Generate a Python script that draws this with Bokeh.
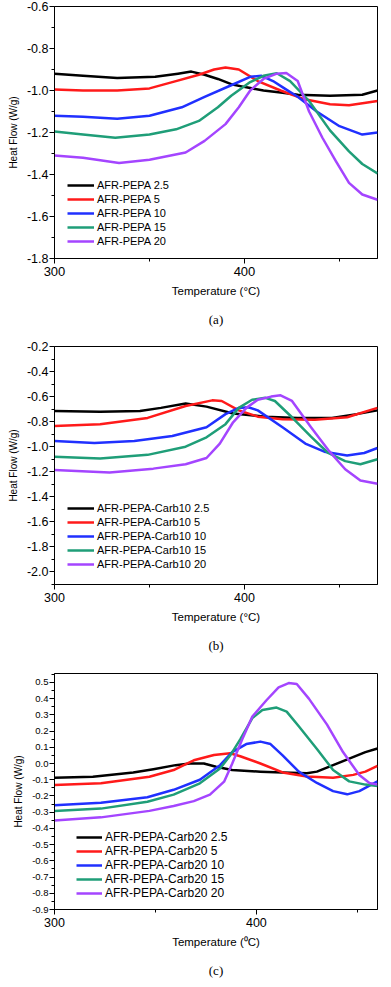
from bokeh.plotting import figure
from bokeh.models import FixedTicker, PrintfTickFormatter, Legend, LegendItem, Title, Range1d
from bokeh.layouts import column
from bokeh.embed import file_html
from bokeh.resources import INLINE

# ---------------- data: panel (a) ----------------
a_names = ["AFR-PEPA 2.5", "AFR-PEPA 5", "AFR-PEPA 10", "AFR-PEPA 15", "AFR-PEPA 20"]
a_t_25 = [300, 315, 333, 353, 365, 372, 379, 386, 393, 401, 410, 419, 428, 445, 462, 470]
a_h_25 = [-0.92, -0.93, -0.94, -0.935, -0.92, -0.91, -0.925, -0.945, -0.97, -0.985, -1.0, -1.01, -1.02, -1.025, -1.02, -1.0]
a_t_5 = [300, 315, 333, 350, 362, 376, 384, 390, 397, 407, 419, 431, 445, 455, 463, 470]
a_h_5 = [-0.995, -1.0, -1.0, -0.99, -0.96, -0.925, -0.9, -0.89, -0.9, -0.955, -1.0, -1.04, -1.065, -1.07, -1.06, -1.05]
a_t_10 = [300, 315, 333, 350, 367, 379, 393, 403, 409, 415, 421, 428, 438, 450, 462, 470]
a_h_10 = [-1.12, -1.125, -1.135, -1.12, -1.08, -1.03, -0.975, -0.935, -0.93, -0.955, -0.99, -1.03, -1.1, -1.17, -1.21, -1.2]
a_t_15 = [300, 315, 332, 350, 364, 376, 386, 393, 403, 410, 417, 424, 434, 445, 455, 462, 470]
a_h_15 = [-1.195, -1.21, -1.225, -1.21, -1.185, -1.145, -1.08, -1.025, -0.96, -0.93, -0.918, -0.955, -1.05, -1.19, -1.29, -1.35, -1.395]
a_t_20 = [300, 315, 334, 350, 369, 379, 390, 397, 403, 410, 417, 422, 428, 434, 441, 448, 455, 462, 470]
a_h_20 = [-1.31, -1.32, -1.345, -1.33, -1.295, -1.24, -1.16, -1.08, -1.0, -0.945, -0.92, -0.917, -0.955, -1.1, -1.225, -1.335, -1.44, -1.495, -1.52]
a_yticks = [-1.8, -1.6, -1.4, -1.2, -1.0, -0.8, -0.6]
a_yminor = [-1.7, -1.5, -1.3, -1.1, -0.9, -0.7]

# ---------------- data: panel (b) ----------------
b_names = ["AFR-PEPA-Carb10 2.5", "AFR-PEPA-Carb10 5", "AFR-PEPA-Carb10 10",
           "AFR-PEPA-Carb10 15", "AFR-PEPA-Carb10 20"]
b_t_25 = [300, 324, 345, 356, 369, 380, 394, 411, 428, 446, 459, 470]
b_h_25 = [-0.714, -0.72, -0.715, -0.69, -0.655, -0.68, -0.735, -0.76, -0.77, -0.77, -0.74, -0.71]
b_t_5 = [300, 324, 349, 369, 383, 388, 397, 407, 420, 437, 454, 470]
b_h_5 = [-0.835, -0.82, -0.77, -0.675, -0.63, -0.635, -0.71, -0.76, -0.78, -0.785, -0.765, -0.69]
b_t_10 = [300, 321, 342, 362, 380, 390, 397, 402, 407, 420, 432, 442, 454, 463, 470]
b_h_10 = [-0.955, -0.97, -0.955, -0.915, -0.845, -0.74, -0.69, -0.685, -0.71, -0.845, -0.975, -1.04, -1.07, -1.05, -1.01]
b_t_15 = [300, 324, 349, 369, 380, 390, 397, 404, 411, 416, 425, 435, 444, 453, 461, 470]
b_h_15 = [-1.08, -1.095, -1.065, -1.0, -0.925, -0.82, -0.69, -0.625, -0.61, -0.635, -0.765, -0.92, -1.05, -1.115, -1.14, -1.1]
b_t_20 = [300, 329, 352, 369, 380, 387, 394, 401, 407, 414, 419, 425, 435, 444, 453, 461, 470]
b_h_20 = [-1.185, -1.205, -1.175, -1.14, -1.09, -0.975, -0.805, -0.69, -0.625, -0.6, -0.59, -0.635, -0.845, -1.025, -1.18, -1.27, -1.295]
b_yticks = [-2.0, -1.8, -1.6, -1.4, -1.2, -1.0, -0.8, -0.6, -0.4, -0.2]
b_yminor = [-2.1, -1.9, -1.7, -1.5, -1.3, -1.1, -0.9, -0.7, -0.5, -0.3]

# ---------------- data: panel (c) ----------------
c_names = ["AFR-PEPA-Carb20 2.5", "AFR-PEPA-Carb20 5", "AFR-PEPA-Carb20 10",
           "AFR-PEPA-Carb20 15", "AFR-PEPA-Carb20 20"]
c_t_25 = [300, 319, 339, 349, 360, 367, 374, 380, 388, 402, 413, 425, 430, 438, 446, 454, 460]
c_h_25 = [-0.088, -0.082, -0.055, -0.035, -0.01, 0.0, 0.0, -0.02, -0.04, -0.05, -0.055, -0.06, -0.05, -0.01, 0.03, 0.07, 0.093]
c_t_5 = [300, 323, 347, 359, 369, 379, 387, 392, 402, 413, 425, 438, 448, 454, 460]
c_h_5 = [-0.132, -0.122, -0.082, -0.04, 0.02, 0.053, 0.063, 0.045, 0.0, -0.055, -0.08, -0.088, -0.07, -0.05, -0.015]
c_t_10 = [300, 323, 346, 359, 372, 382, 388, 395, 402, 407, 413, 421, 430, 438, 445, 451, 460]
c_h_10 = [-0.258, -0.242, -0.208, -0.162, -0.1, -0.01, 0.07, 0.12, 0.135, 0.12, 0.05, -0.05, -0.12, -0.17, -0.19, -0.17, -0.11]
c_t_15 = [300, 323, 346, 359, 372, 382, 387, 392, 398, 403, 410, 415, 421, 430, 438, 446, 454, 460]
c_h_15 = [-0.292, -0.278, -0.236, -0.192, -0.122, -0.031, 0.049, 0.149, 0.28, 0.33, 0.345, 0.32, 0.23, 0.09, -0.04, -0.11, -0.13, -0.138]
c_t_20 = [300, 323, 347, 359, 369, 377, 384, 388, 393, 398, 405, 411, 416, 420, 426, 435, 443, 451, 456, 460]
c_h_20 = [-0.352, -0.332, -0.292, -0.262, -0.232, -0.192, -0.112, -0.001, 0.149, 0.29, 0.39, 0.47, 0.496, 0.49, 0.40, 0.24, 0.069, -0.071, -0.12, -0.13]
c_yticks = [-0.9, -0.8, -0.7, -0.6, -0.5, -0.4, -0.3, -0.2, -0.1, 0.0, 0.1, 0.2, 0.3, 0.4, 0.5]
c_yminor = [-0.85, -0.75, -0.65, -0.55, -0.45, -0.35, -0.25, -0.15, -0.05,
            0.05, 0.15, 0.25, 0.35, 0.45, 0.55]

x_major = [300, 400]
x_minor = [350, 450]
colors = ["#000000", "#ff1a1a", "#2030ff", "#1f9e78", "#a445ff"]

SANS = "Liberation Sans"
SERIF = "Liberation Serif"
W = 391


def panel(series, names, height, bt, bb, bl, br, x_end, y_rng, yticks, yminor,
          ytick_fs, xtick_fs, xlabel, caption, leg_loc, leg_fs, leg_gw, leg_h):
    p = figure(width=W, height=height, output_backend="svg", toolbar_location=None,
               x_range=Range1d(300, x_end), y_range=Range1d(*y_rng),
               min_border_top=bt, min_border_bottom=bb, min_border_left=bl,
               min_border_right=br)
    p.xgrid.visible = False
    p.ygrid.visible = False
    p.outline_line_color = "black"
    p.outline_line_width = 1
    p.outline_line_alpha = 1
    p.background_fill_color = "white"
    p.border_fill_color = "white"

    items = []
    for (t, h), c, n in zip(series, colors, names):
        r = p.line(t, h, line_color=c, line_width=2.5, line_join="round")
        items.append(LegendItem(label=n, renderers=[r]))

    for ax in (p.xaxis[0], p.yaxis[0]):
        ax.axis_line_color = "black"
        ax.axis_line_width = 1
        ax.major_tick_line_color = "black"
        ax.minor_tick_line_color = "black"
        ax.major_tick_in = 0
        ax.major_tick_out = 5
        ax.minor_tick_in = 0
        ax.minor_tick_out = 3
        ax.major_label_text_font = SANS
        ax.axis_label_text_font = SANS
        ax.axis_label_text_font_style = "normal"
        ax.axis_label_text_color = "black"
        ax.major_label_text_color = "black"

    p.xaxis.ticker = FixedTicker(ticks=x_major, minor_ticks=x_minor)
    p.xaxis.major_label_text_font_size = xtick_fs
    p.xaxis.axis_label = xlabel
    p.xaxis.axis_label_text_font_size = "11.5px"
    p.xaxis.major_label_standoff = 3
    p.xaxis.axis_label_standoff = 6

    p.yaxis.ticker = FixedTicker(ticks=yticks, minor_ticks=yminor)
    p.yaxis.formatter = PrintfTickFormatter(format="%.1f")
    p.yaxis.major_label_text_font_size = ytick_fs
    p.yaxis.axis_label = "Heat Flow (W/g)"
    p.yaxis.axis_label_text_font_size = "10px"
    p.yaxis.major_label_standoff = 1
    p.yaxis.axis_label_standoff = 5

    leg = Legend(items=items, location=leg_loc, padding=0, margin=0, spacing=0,
                 glyph_width=leg_gw, glyph_height=leg_h, label_height=leg_h,
                 label_standoff=3, label_text_font=SANS, label_text_font_size=leg_fs,
                 label_text_color="black",
                 background_fill_alpha=0, border_line_alpha=0)
    p.add_layout(leg, "center")

    cap = Title(text=caption, align="center", text_font=SERIF, text_font_size="13px",
                text_font_style="normal", text_color="black", standoff=20)
    p.add_layout(cap, "below")
    return p


pa = panel([(a_t_25, a_h_25), (a_t_5, a_h_5), (a_t_10, a_h_10), (a_t_15, a_h_15), (a_t_20, a_h_20)],
           a_names, 336, 6, 78, 53, 9, 470, (-1.8, -0.6), a_yticks, a_yminor,
           "12.5px", "13px", "Temperature (\u00b0C)", "(a)", (13, 10), "11px", 27, 14)
pb = panel([(b_t_25, b_h_25), (b_t_5, b_h_5), (b_t_10, b_h_10), (b_t_15, b_h_15), (b_t_20, b_h_20)],
           b_names, 326, 10, 74, 53, 10, 470, (-2.1, -0.2), b_yticks, b_yminor,
           "12.5px", "12.5px", "Temperature (\u00b0C)", "(b)", (13, 13), "11px", 27, 14)
pc = panel([(c_t_25, c_h_25), (c_t_5, c_h_5), (c_t_10, c_h_10), (c_t_15, c_h_15), (c_t_20, c_h_20)],
           c_names, 325, 11, 74, 54, 14, 460, (-0.9, 0.555), c_yticks, c_yminor,
           "9.5px", "12.5px", "Temperature (\u2070C)", "(c)", (22, 9), "12px", 26, 14)

layout = column(pa, pb, pc, spacing=0)
open("out.html", "w").write(file_html(layout, INLINE))
